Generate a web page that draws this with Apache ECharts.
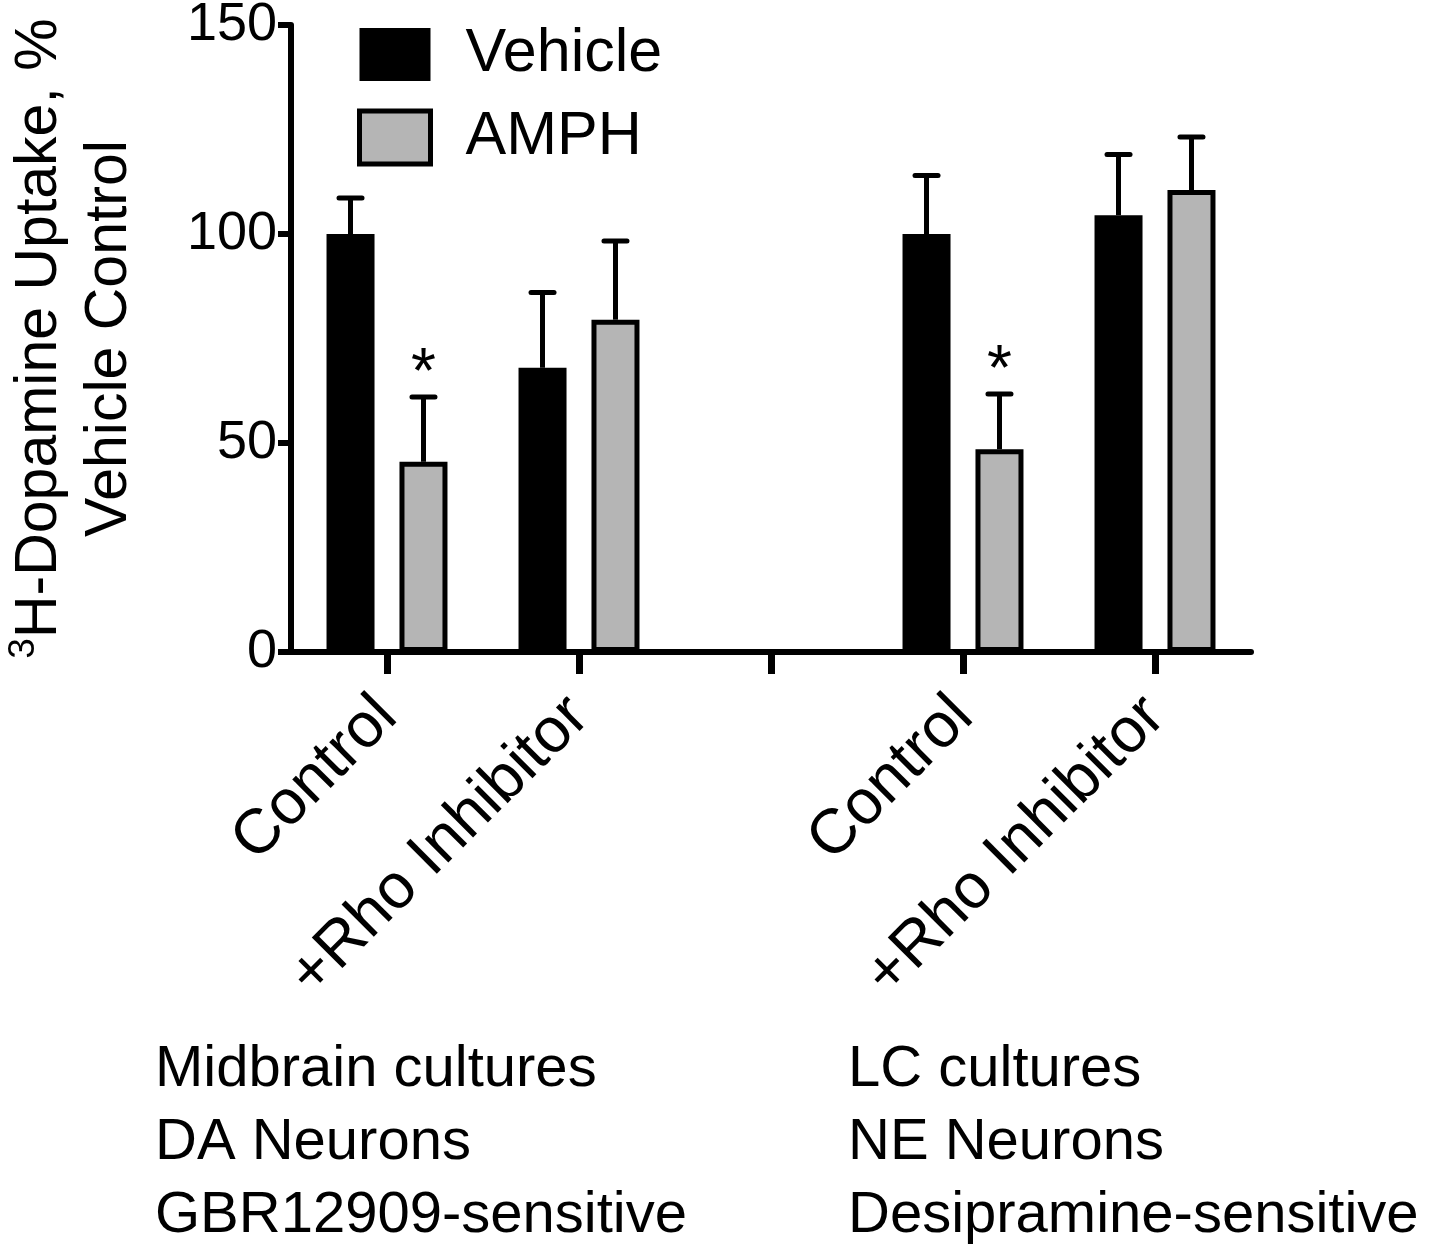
<!DOCTYPE html>
<html>
<head>
<meta charset="utf-8">
<script src="https://cdn.jsdelivr.net/npm/echarts@6/dist/echarts.min.js"></script>
<style>html,body{margin:0;padding:0;background:#fff;}#chart{width:1431px;height:1257px;}</style>
</head>
<body>
<div id="chart"></div>
<script>
// ---- data ----
const categories = ['Control', '+Rho Inhibitor', '', 'Control', '+Rho Inhibitor'];
const seriesNames = ['Vehicle', 'AMPH'];
const vehicleMean = [100, 68, null, 100, 104.5];
const vehicleUpper = [108.6, 86, null, 114, 119];
const amphMean = [45.5, 79.5, null, 48.5, 110.5];
const amphUpper = [61, 98.3, null, 61.7, 123.2];
const amphSignificant = [1, 0, 0, 1, 0];
const yTicks = [0, 50, 100, 150];
const leftNotes = ['Midbrain cultures', 'DA Neurons', 'GBR12909-sensitive'];
const rightNotes = ['LC cultures', 'NE Neurons', 'Desipramine-sensitive'];

// ---- style ----
const FONT = '"Liberation Sans", Arial, Helvetica, sans-serif';
const BAR_W = 48, BAR_GAP = 0.52, BORDER = 5;
const OFFSET = BAR_W * (1 + BAR_GAP) / 2;
const GRAY = '#b5b5b5';

function errData(mean, upper, sig) {
  const out = [];
  mean.forEach((m, i) => { if (m != null) out.push([i, m, upper[i], sig ? sig[i] : 0]); });
  return out;
}
function makeErr(sign) {
  return function (params, api) {
    const c = api.value(0), m = api.value(1), h = api.value(2), s = api.value(3);
    const p0 = api.coord([c, m]);
    const p1 = api.coord([c, h]);
    const x = p0[0] + sign * OFFSET;
    const children = [
      { type: 'line', shape: { x1: x, y1: p0[1], x2: x, y2: p1[1] }, style: { stroke: '#000', lineWidth: 5 } },
      { type: 'line', shape: { x1: x - 11.5, y1: p1[1], x2: x + 11.5, y2: p1[1] }, style: { stroke: '#000', lineWidth: 5, lineCap: 'round' } }
    ];
    if (s) {
      children.push({ type: 'text', style: { text: '*', x: x, y: p1[1] - 22, fill: '#000', font: '64px ' + FONT, align: 'center', verticalAlign: 'middle' } });
    }
    return { type: 'group', children };
  };
}

const graphics = [];
const noteY = [1075, 1148, 1221];
leftNotes.forEach((t, i) => graphics.push({ type: 'text', left: 155, top: noteY[i] - 34, style: { text: t, font: '58px ' + FONT, fill: '#000' } }));
rightNotes.forEach((t, i) => graphics.push({ type: 'text', left: 848, top: noteY[i] - 34, style: { text: t, font: '58px ' + FONT, fill: '#000' } }));

const chart = echarts.init(document.getElementById('chart'));
chart.setOption({
  animation: false,
  backgroundColor: '#fff',
  textStyle: { fontFamily: FONT, color: '#000' },
  grid: { left: 291, right: 180, top: 25, bottom: 605, containLabel: false, outerBoundsMode: 'none' },
  legend: {
    orient: 'vertical', left: 357, top: 24, padding: 0,
    itemWidth: 71, itemHeight: 53, itemGap: 22,
    icon: 'rect',
    textStyle: { fontSize: 61, color: '#000', fontFamily: FONT, padding: [0, 0, 0, 30] },
    data: [
      { name: 'Vehicle', itemStyle: { color: '#000', borderColor: '#000', borderWidth: 0 } },
      { name: 'AMPH', itemStyle: { color: GRAY, borderColor: '#000', borderWidth: 5 } }
    ]
  },
  xAxis: {
    type: 'category', data: categories,
    axisLine: { lineStyle: { color: '#000', width: 6 } },
    axisTick: { show: true, alignWithLabel: true, length: 22, lineStyle: { color: '#000', width: 7 } },
    axisLabel: { rotate: 45, margin: 55, fontSize: 63, color: '#000', fontFamily: FONT, interval: 0 },
    splitLine: { show: false }
  },
  yAxis: {
    type: 'value', min: 0, max: 150, interval: 50,
    axisLine: { show: true, lineStyle: { color: '#000', width: 6 } },
    axisTick: { show: true, length: 13, lineStyle: { color: '#000', width: 6 } },
    axisLabel: { margin: 14, fontSize: 54, color: '#000', fontFamily: FONT,
      customValues: yTicks },
    splitLine: { show: false },
    name: '{sup|3}{m|H-Dopamine Uptake, %}\n{m|Vehicle Control}',
    nameLocation: 'middle', nameRotate: 90, nameGap: 146,
    nameTextStyle: {
      fontFamily: FONT, color: '#000', lineHeight: 70, align: 'center',
      rich: {
        m: { fontSize: 59, fontFamily: FONT, color: '#000', lineHeight: 70 },
        sup: { fontSize: 37, fontFamily: FONT, color: '#000', verticalAlign: 'top', lineHeight: 70 }
      }
    }
  },
  series: [
    { name: seriesNames[0], type: 'bar', data: vehicleMean, barWidth: BAR_W, barGap: (BAR_GAP * 100) + '%',
      itemStyle: { color: '#000', borderColor: '#000', borderWidth: BORDER } },
    { name: seriesNames[1], type: 'bar', data: amphMean, barWidth: BAR_W,
      itemStyle: { color: GRAY, borderColor: '#000', borderWidth: BORDER } },
    { name: 'vehErr', type: 'custom', renderItem: makeErr(-1), data: errData(vehicleMean, vehicleUpper), z: 3 },
    { name: 'amphErr', type: 'custom', renderItem: makeErr(1), data: errData(amphMean, amphUpper, amphSignificant), z: 3 }
  ],
  graphic: graphics
});
</script>
</body>
</html>
